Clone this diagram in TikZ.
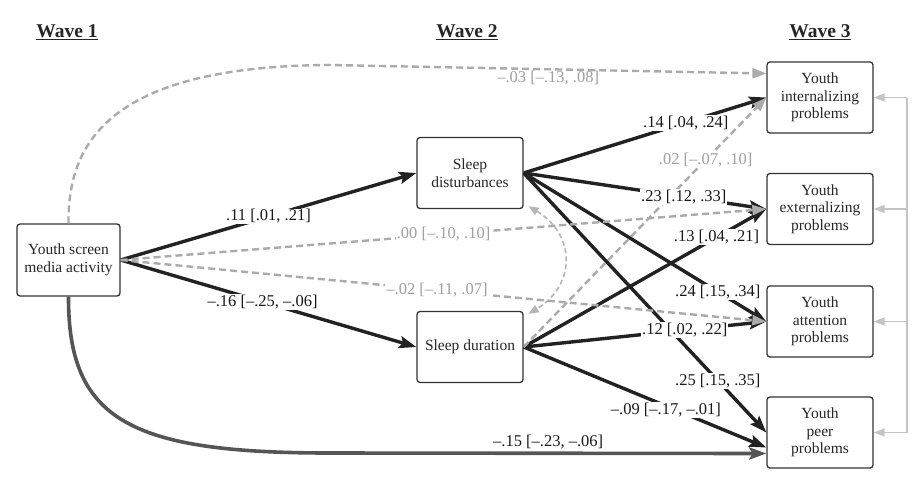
\documentclass[tikz,border=0pt]{standalone}
\usepackage{fontspec}
\setmainfont{Liberation Serif}
\usetikzlibrary{arrows.meta}
\definecolor{ink}{HTML}{222222}
\definecolor{dgray}{HTML}{ABABAB}
\definecolor{tgray}{HTML}{A0A0A0}
\definecolor{cgray}{HTML}{555555}
\definecolor{busc}{HTML}{C4C4C4}
\definecolor{corrc}{HTML}{B5B5B5}
\definecolor{boxc}{HTML}{333333}
\begin{document}
\begin{tikzpicture}[x=1pt,y=-1pt,
  box/.style={draw=boxc, line width=1.3pt, rounded corners=3pt, minimum width=106pt, minimum height=71pt, align=center, font=\fontsize{15.5}{17.5}\selectfont, text=black!85, inner sep=2pt},
  sig/.style={draw=ink, line width=3.4pt, -{Stealth[length=17pt,width=12pt,inset=3pt]}},
  bot/.style={draw=cgray, line width=3.6pt, -{Stealth[length=17pt,width=12pt,inset=3pt]}},
  ns/.style={draw=dgray, line width=2.4pt, dash pattern=on 7pt off 4pt, -{Triangle[length=14pt,width=10pt]}},
  corr/.style={draw=corrc, line width=1.6pt, dash pattern=on 5pt off 3pt, {Triangle[length=10pt,width=8pt]}-{Triangle[length=10pt,width=8pt]}},
  busline/.style={draw=busc, line width=1.6pt},
  busarr/.style={draw=busc, line width=1.6pt, -{Triangle[length=11pt,width=8pt]}},
  lab/.style={fill=white, inner sep=1pt, font=\fontsize{16.5}{18}\selectfont, text=black!90},
  nlab/.style={fill=white, inner sep=1pt, font=\fontsize{16.5}{18}\selectfont, text=tgray},
  wave/.style={font=\fontsize{19.5}{21}\selectfont\bfseries, text=black!85},
]
\useasboundingbox (0,0) rectangle (920,480);

% titles
\node[wave] (w1) at (67,32) {\underline{Wave 1}};
\node[wave] (w2) at (467,32) {\underline{Wave 2}};
\node[wave] (w3) at (820,32) {\underline{Wave 3}};

% boxes
\node[box, minimum width=103pt, minimum height=72pt] (scr) at (68.5,260) {Youth screen\\media activity};
\node[box] (sd) at (470,173) {Sleep\\disturbances};
\node[box] (sdu) at (470,347) {Sleep duration};
\node[box] (int) at (820,97.5) {Youth\\internalizing\\problems};
\node[box] (ext) at (820,209) {Youth\\externalizing\\problems};
\node[box] (att) at (820,321.5) {Youth\\attention\\problems};
\node[box] (peer) at (820,432.5) {Youth\\peer\\problems};

% right bus
\coordinate (bt) at (907,97.5);
\coordinate (bb) at (907,432.5);
\draw[busline] (bt) -- (bb);
\foreach \n in {int,ext,att,peer} \draw[busarr] (bt |- \n.east) -- (\n.east);

% significant paths
\draw[sig] (scr.east) -- coordinate[pos=0.5] (l1) (sd.west);
\draw[sig] (scr.east) -- coordinate[pos=0.48] (l2) (sdu.west);
\draw[sig] (sd.east) -- coordinate[pos=0.668] (l6) (int.west);
\draw[sig] (sd.east) -- coordinate[pos=0.66] (l7) (ext.west);
\draw[sig] (sd.east) -- coordinate[pos=0.80] (l8) (att.west);
\draw[sig] (sd.east) -- coordinate[pos=0.80] (l9) (peer.west);
\draw[sig] (sdu.east) -- coordinate[pos=0.795] (l11) (ext.west);
\draw[sig] (sdu.east) -- coordinate[pos=0.664] (l12) (att.west);
\draw[sig] (sdu.east) -- coordinate[pos=0.586] (l13) ([yshift=-15pt]peer.west);
\draw[bot] (scr.south) .. controls (68,420) and (130,453) .. (330,453) -- coordinate[pos=0.5] (l14) ([yshift=-21pt]peer.west);

% non-significant paths
\draw[ns] (scr.north) .. controls (68,150) and (100,66) .. (330,65) -- coordinate[pos=0.5] (l3) ([yshift=24pt]int.west);
\draw[ns] (scr.east) -- coordinate[pos=0.5] (l4) (ext.west);
\draw[ns] (scr.east) -- coordinate[pos=0.49] (l5) (att.west);
\draw[ns] (sdu.east) -- coordinate[pos=0.75] (l10) (int.west);

% correlation between mediators
\draw[corr] ([shift={(5,-3)}]sd.south east) .. controls (576,235) and (576,285) .. ([shift={(5,3)}]sdu.north east);

% labels
\node[lab] at (l1) {.11 [.01, .21]};
\node[lab] at (l2) {–.16 [–.25, –.06]};
\node[nlab, fill=none, below=1pt] at (l3) {–.03 [–.13, .08]};
\node[nlab] at (l4) {.00 [–.10, .10]};
\node[nlab] at (l5) {–.02 [–.11, .07]};
\node[lab] at (l6) {.14 [.04, .24]};
\node[lab] at (l7) {.23 [.12, .33]};
\node[lab] at (l8) {.24 [.15, .34]};
\node[lab] at (l9) {.25 [.15, .35]};
\node[nlab] at (l10) {.02 [–.07, .10]};
\node[lab] at (l11) {.13 [.04, .21]};
\node[lab] at (l12) {.12 [.02, .22]};
\node[lab] at ([yshift=-4pt]l13) {–.09 [–.17, –.01]};
\node[lab, fill=none, above=3pt] at (l14) {–.15 [–.23, –.06]};
\end{tikzpicture}
\end{document}
